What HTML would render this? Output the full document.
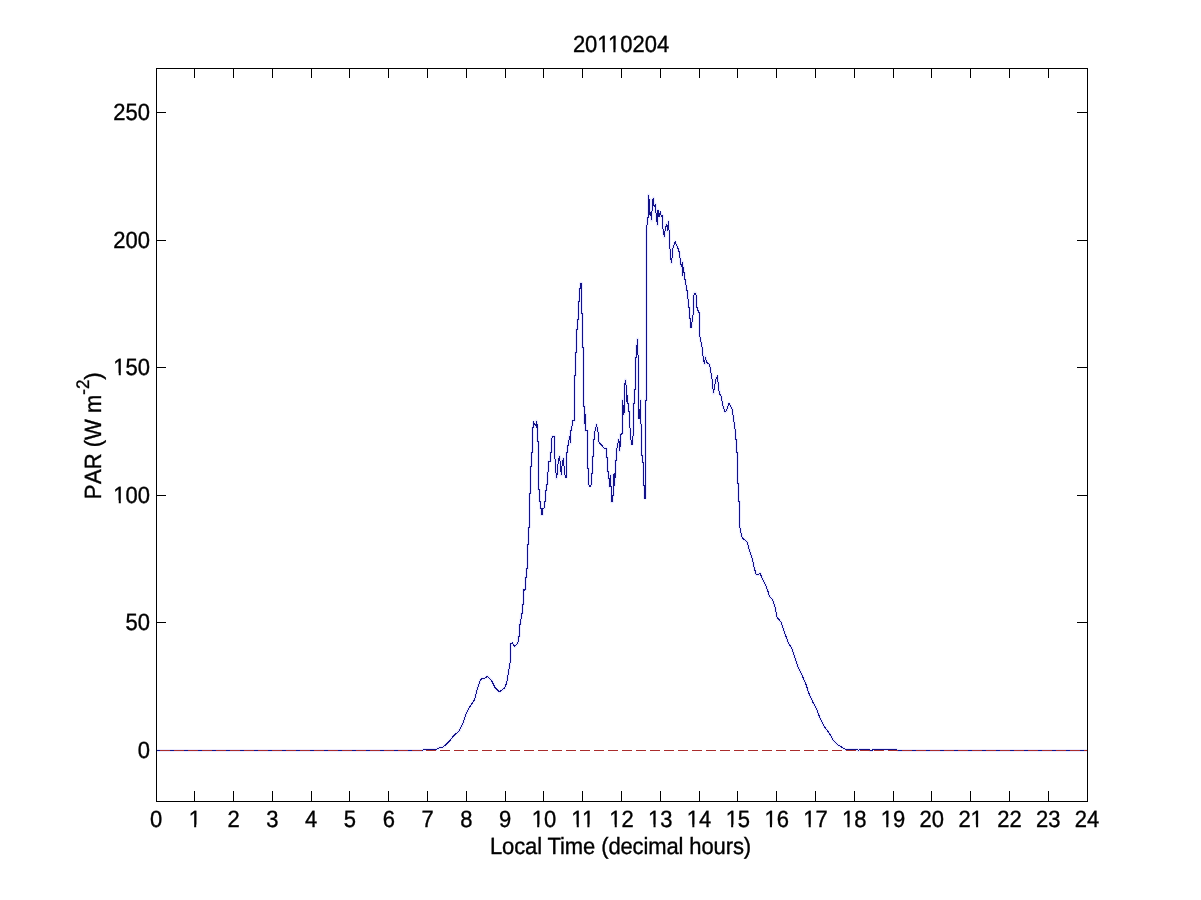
<!DOCTYPE html>
<html><head><meta charset="utf-8"><style>
html,body{margin:0;padding:0;background:#fff;width:1201px;height:900px;overflow:hidden}
svg{display:block;will-change:transform}
text{font-family:"Liberation Sans",sans-serif;font-size:22px;fill:#000;stroke:#000;stroke-width:0.35px;text-rendering:geometricPrecision}
</style></head><body>
<svg width="1201" height="900" viewBox="0 0 1201 900">
<rect x="0" y="0" width="1201" height="900" fill="#fff"/>
<polyline points="156,750.5 422.5,750.5 423.5,749.5 436,749.5 437.5,748.5 440,747.5 443,747 445,745.5 447.5,743 450.5,740 452.5,737 454.5,735 459.3,730.7 462.7,724 466,714 468.7,708.7 474.7,699.3 477.3,688.7 480,680.7 482,678.7 484.7,678.4 487.3,676.3 491.3,680 495.3,688 499.3,692 504.7,688 506.7,682.7 510.5,660 510.5,644 512.4,643 514.8,646.5 517.9,643 518.5,636 519.5,636 519.5,624 520.5,624 521.5,613.3 522.5,613 522.5,604 523.5,604 523.5,589.3 524.5,590 525.5,589.3 525.5,577.3 526.5,577.3 526.5,568.7 527.5,568.7 527.5,545 528.5,544 528.5,528 529.5,527 529.5,494 530.5,493 530.5,467 531.5,466 531.5,453 532.5,452 532.5,428 533.5,427.5 533.5,422 536.5,427 536.5,421 537.5,427 537.5,441 538.5,442 538.5,489.7 539.5,490 539.5,501.3 540.5,502 540.5,508.3 541.5,509 541.5,514.5 542.5,514.5 542.5,508.3 544.5,508 544.5,502 545.5,501 545.5,490.8 546.5,490 546.5,485 547.5,484.5 547.5,472.5 548.5,471 548.5,461.7 550.5,461 550.5,452.3 551.5,452 551.5,439 552.5,436.5 554.5,436.5 554.5,451.5 555.6,467.8 556.4,478.4 557.6,472.2 558.2,460.7 559.4,456.2 560.3,463.3 561.3,474.9 562.2,463.3 563.3,458.4 564,466 564.9,474 565.5,477 566.5,477 566.5,453 567.5,452 567.5,447 568.5,444 569.5,436 570.5,443 570.5,431 571.5,430.6 572.5,421 573.5,420.6 574.5,420.6 574.5,375.8 575.5,375.8 575.5,352.4 576.5,352.4 576.5,329.1 577.5,329.1 577.5,319.8 578.5,319.8 578.5,301.1 579.5,301.1 579.5,288.7 580.5,288.7 580.5,283.2 581.5,283.2 581.5,313.5 582.5,313.5 582.5,347.8 583.5,347.8 583.5,406 584.5,406 584.5,424 585.5,414 585.5,430.6 586.5,430.6 587.5,431 587.5,468 588.5,468 588.5,484 589.5,486 590.5,486 591.5,484 591.5,473 592.5,473 592.5,456 593.5,456 593.5,439.4 594.5,439 594.5,432.8 595.5,430 596.5,424.4 597.5,430 598.5,434 598.5,441.7 604.4,448.3 605.5,448.3 606.5,449 606.5,457.8 607.5,457.8 607.5,471.7 608.5,471.7 608.5,478.9 609.5,478.9 609.5,486.7 610.5,475 610.5,486 611.5,486 611.5,501.7 612.5,501.7 612.5,495.6 613.5,495.6 613.5,475 614.5,474 614.5,485.6 615.5,471.7 615.5,460 616.5,460 616.5,450 617.5,446 618.5,439.4 619.5,443 619.5,451 620.5,443 620.5,434 621.5,434 622.5,433 622.5,400 623.5,415 623.5,405 624.5,413 624.5,386 625.5,380 626.5,390 626.5,402 627.5,395 627.5,403 628.5,403 628.5,411 629.5,411 629.5,420 630.5,435 631.5,444 632.5,444 633.5,429 633.5,403 634.5,403 634.5,389 635.5,389 635.5,357 636.5,357 636.5,345 637.5,345 637.5,339 638.5,371 638.5,418 639.5,418 640.5,400 640.5,418 641.5,430 641.5,455 642.5,455 642.5,462 643.5,462 643.5,485.6 644.5,486 644.5,498 645.5,498 645.5,400 646.5,400 646.5,230 646.7,229 647.5,218.3 648.3,217 648.5,195 649,215.7 649.3,199 650,211.7 650.7,213 651.5,220.3 652,211 652.5,200.3 653.5,198 654,205.7 654.7,206.3 655.5,204.3 655.9,211.7 656.7,219.7 657.5,225 658,210.3 659,217 660.3,212.3 661.3,216.3 662.7,215.7 663,229 664.3,237 665.3,229 666.7,223.7 667.3,231 668.5,221.3 669.3,235 669.7,245 670.8,258.1 671.5,262.8 673.1,247.2 675.1,241.8 677.5,247 679.5,253 680.5,262 681.5,267 682.5,262 682.5,275.6 683.5,267 683.5,272 684.5,273 684.5,279 685.5,280 686.5,290.5 687.5,291 688.5,307 689.5,307.5 689.5,318 690.5,318 690.5,327 691.5,327 692.5,317 693.5,312.8 693.5,297 694.5,293 695.5,293 696.5,297 696.5,307 697.5,308 698.5,312.8 699.5,313 699.5,335 701.8,345.1 703.3,359.1 704.6,363.8 705.3,356.8 706.4,362.2 709.5,364.5 711.9,377.8 713.4,393.3 715.8,379.3 717.3,376.2 718.9,390.2 720.1,394.9 721.2,396.4 722.8,405.8 725.1,412 726.7,410.4 729,403.4 732.1,408.9 733.7,419.8 735.5,432.2 735.5,439 736.5,439.5 736.5,452 737.5,452 737.5,483 738.5,483 738.5,501.5 739.5,501.5 739.5,525 741.5,535.8 743.3,538.9 747.2,542 748.8,548.2 751.9,557.5 753.9,566.2 755.9,574 757.8,574.8 760.1,573.2 762.4,578.7 765.6,584.9 767.9,591.1 769.4,596.5 772.6,599.7 774.9,606.7 777.2,617.5 781.1,622.2 784.2,631.5 788.1,642.4 792,648.6 795.1,658 798.2,667.3 801.3,673.5 806,684.4 808.9,693.3 813.3,703.1 816.9,709.3 819.6,717.3 824,726.2 829.3,733.3 832.9,739.6 835,742.1 838.5,745.3 842,747.3 845.5,749.5 857.1,749.5 858.3,750.5 859.5,749.5 869,749.5 870,750.5 872,750.5 872.9,749.5 896.2,749.5 898,750.5 1087,750.5" fill="none" stroke="#eaeaff" stroke-width="3" stroke-linejoin="round"/>
<polyline points="156,750.5 422.5,750.5 423.5,749.5 436,749.5 437.5,748.5 440,747.5 443,747 445,745.5 447.5,743 450.5,740 452.5,737 454.5,735 459.3,730.7 462.7,724 466,714 468.7,708.7 474.7,699.3 477.3,688.7 480,680.7 482,678.7 484.7,678.4 487.3,676.3 491.3,680 495.3,688 499.3,692 504.7,688 506.7,682.7 510.5,660 510.5,644 512.4,643 514.8,646.5 517.9,643 518.5,636 519.5,636 519.5,624 520.5,624 521.5,613.3 522.5,613 522.5,604 523.5,604 523.5,589.3 524.5,590 525.5,589.3 525.5,577.3 526.5,577.3 526.5,568.7 527.5,568.7 527.5,545 528.5,544 528.5,528 529.5,527 529.5,494 530.5,493 530.5,467 531.5,466 531.5,453 532.5,452 532.5,428 533.5,427.5 533.5,422 536.5,427 536.5,421 537.5,427 537.5,441 538.5,442 538.5,489.7 539.5,490 539.5,501.3 540.5,502 540.5,508.3 541.5,509 541.5,514.5 542.5,514.5 542.5,508.3 544.5,508 544.5,502 545.5,501 545.5,490.8 546.5,490 546.5,485 547.5,484.5 547.5,472.5 548.5,471 548.5,461.7 550.5,461 550.5,452.3 551.5,452 551.5,439 552.5,436.5 554.5,436.5 554.5,451.5 555.6,467.8 556.4,478.4 557.6,472.2 558.2,460.7 559.4,456.2 560.3,463.3 561.3,474.9 562.2,463.3 563.3,458.4 564,466 564.9,474 565.5,477 566.5,477 566.5,453 567.5,452 567.5,447 568.5,444 569.5,436 570.5,443 570.5,431 571.5,430.6 572.5,421 573.5,420.6 574.5,420.6 574.5,375.8 575.5,375.8 575.5,352.4 576.5,352.4 576.5,329.1 577.5,329.1 577.5,319.8 578.5,319.8 578.5,301.1 579.5,301.1 579.5,288.7 580.5,288.7 580.5,283.2 581.5,283.2 581.5,313.5 582.5,313.5 582.5,347.8 583.5,347.8 583.5,406 584.5,406 584.5,424 585.5,414 585.5,430.6 586.5,430.6 587.5,431 587.5,468 588.5,468 588.5,484 589.5,486 590.5,486 591.5,484 591.5,473 592.5,473 592.5,456 593.5,456 593.5,439.4 594.5,439 594.5,432.8 595.5,430 596.5,424.4 597.5,430 598.5,434 598.5,441.7 604.4,448.3 605.5,448.3 606.5,449 606.5,457.8 607.5,457.8 607.5,471.7 608.5,471.7 608.5,478.9 609.5,478.9 609.5,486.7 610.5,475 610.5,486 611.5,486 611.5,501.7 612.5,501.7 612.5,495.6 613.5,495.6 613.5,475 614.5,474 614.5,485.6 615.5,471.7 615.5,460 616.5,460 616.5,450 617.5,446 618.5,439.4 619.5,443 619.5,451 620.5,443 620.5,434 621.5,434 622.5,433 622.5,400 623.5,415 623.5,405 624.5,413 624.5,386 625.5,380 626.5,390 626.5,402 627.5,395 627.5,403 628.5,403 628.5,411 629.5,411 629.5,420 630.5,435 631.5,444 632.5,444 633.5,429 633.5,403 634.5,403 634.5,389 635.5,389 635.5,357 636.5,357 636.5,345 637.5,345 637.5,339 638.5,371 638.5,418 639.5,418 640.5,400 640.5,418 641.5,430 641.5,455 642.5,455 642.5,462 643.5,462 643.5,485.6 644.5,486 644.5,498 645.5,498 645.5,400 646.5,400 646.5,230 646.7,229 647.5,218.3 648.3,217 648.5,195 649,215.7 649.3,199 650,211.7 650.7,213 651.5,220.3 652,211 652.5,200.3 653.5,198 654,205.7 654.7,206.3 655.5,204.3 655.9,211.7 656.7,219.7 657.5,225 658,210.3 659,217 660.3,212.3 661.3,216.3 662.7,215.7 663,229 664.3,237 665.3,229 666.7,223.7 667.3,231 668.5,221.3 669.3,235 669.7,245 670.8,258.1 671.5,262.8 673.1,247.2 675.1,241.8 677.5,247 679.5,253 680.5,262 681.5,267 682.5,262 682.5,275.6 683.5,267 683.5,272 684.5,273 684.5,279 685.5,280 686.5,290.5 687.5,291 688.5,307 689.5,307.5 689.5,318 690.5,318 690.5,327 691.5,327 692.5,317 693.5,312.8 693.5,297 694.5,293 695.5,293 696.5,297 696.5,307 697.5,308 698.5,312.8 699.5,313 699.5,335 701.8,345.1 703.3,359.1 704.6,363.8 705.3,356.8 706.4,362.2 709.5,364.5 711.9,377.8 713.4,393.3 715.8,379.3 717.3,376.2 718.9,390.2 720.1,394.9 721.2,396.4 722.8,405.8 725.1,412 726.7,410.4 729,403.4 732.1,408.9 733.7,419.8 735.5,432.2 735.5,439 736.5,439.5 736.5,452 737.5,452 737.5,483 738.5,483 738.5,501.5 739.5,501.5 739.5,525 741.5,535.8 743.3,538.9 747.2,542 748.8,548.2 751.9,557.5 753.9,566.2 755.9,574 757.8,574.8 760.1,573.2 762.4,578.7 765.6,584.9 767.9,591.1 769.4,596.5 772.6,599.7 774.9,606.7 777.2,617.5 781.1,622.2 784.2,631.5 788.1,642.4 792,648.6 795.1,658 798.2,667.3 801.3,673.5 806,684.4 808.9,693.3 813.3,703.1 816.9,709.3 819.6,717.3 824,726.2 829.3,733.3 832.9,739.6 835,742.1 838.5,745.3 842,747.3 845.5,749.5 857.1,749.5 858.3,750.5 859.5,749.5 869,749.5 870,750.5 872,750.5 872.9,749.5 896.2,749.5 898,750.5 1087,750.5" fill="none" stroke="#121288" stroke-width="1" stroke-linejoin="miter" shape-rendering="crispEdges"/>
<path d="M156 750.5H1087" stroke="#aa2c2c" stroke-width="1" stroke-dasharray="10 4" stroke-dashoffset="10" fill="none" shape-rendering="crispEdges"/>
<g shape-rendering="crispEdges" stroke="#000" stroke-width="1" fill="none">
<rect x="156.5" y="68.5" width="931" height="733"/>
<path d="M194.5 69V78M194.5 801V791M233.5 69V78M233.5 801V791M272.5 69V78M272.5 801V791M311.5 69V78M311.5 801V791M349.5 69V78M349.5 801V791M388.5 69V78M388.5 801V791M427.5 69V78M427.5 801V791M466.5 69V78M466.5 801V791M505.5 69V78M505.5 801V791M543.5 69V78M543.5 801V791M582.5 69V78M582.5 801V791M621.5 69V78M621.5 801V791M660.5 69V78M660.5 801V791M699.5 69V78M699.5 801V791M737.5 69V78M737.5 801V791M776.5 69V78M776.5 801V791M815.5 69V78M815.5 801V791M854.5 69V78M854.5 801V791M893.5 69V78M893.5 801V791M931.5 69V78M931.5 801V791M970.5 69V78M970.5 801V791M1009.5 69V78M1009.5 801V791M1048.5 69V78M1048.5 801V791M157 622.5H166M1087 622.5H1077M157 495.5H166M1087 495.5H1077M157 367.5H166M1087 367.5H1077M157 240.5H166M1087 240.5H1077M157 112.5H166M1087 112.5H1077"/>
</g>
<g>
<g transform="matrix(1 0 0 1.066 0 -3.432)"><text x="621" y="52" text-anchor="middle">20110204</text><rect x="597.74" y="49.80" width="5.08" height="3.80" fill="#fff"/><rect x="604.87" y="49.80" width="4.87" height="3.80" fill="#fff"/><rect x="608.34" y="49.80" width="5.08" height="3.80" fill="#fff"/><rect x="615.46" y="49.80" width="4.87" height="3.80" fill="#fff"/></g><g transform="matrix(1 0 0 1.066 0 -54.582)"><text x="156.00" y="827" text-anchor="middle">0</text></g><g transform="matrix(1 0 0 1.066 0 -54.582)"><text x="194.79" y="827" text-anchor="middle">1</text><rect x="189.06" y="824.80" width="5.08" height="3.80" fill="#fff"/><rect x="196.19" y="824.80" width="4.87" height="3.80" fill="#fff"/></g><g transform="matrix(1 0 0 1.066 0 -54.582)"><text x="233.58" y="827" text-anchor="middle">2</text></g><g transform="matrix(1 0 0 1.066 0 -54.582)"><text x="272.38" y="827" text-anchor="middle">3</text></g><g transform="matrix(1 0 0 1.066 0 -54.582)"><text x="311.17" y="827" text-anchor="middle">4</text></g><g transform="matrix(1 0 0 1.066 0 -54.582)"><text x="349.96" y="827" text-anchor="middle">5</text></g><g transform="matrix(1 0 0 1.066 0 -54.582)"><text x="388.75" y="827" text-anchor="middle">6</text></g><g transform="matrix(1 0 0 1.066 0 -54.582)"><text x="427.54" y="827" text-anchor="middle">7</text></g><g transform="matrix(1 0 0 1.066 0 -54.582)"><text x="466.33" y="827" text-anchor="middle">8</text></g><g transform="matrix(1 0 0 1.066 0 -54.582)"><text x="505.12" y="827" text-anchor="middle">9</text></g><g transform="matrix(1 0 0 1.066 0 -54.582)"><text x="543.92" y="827" text-anchor="middle">10</text><rect x="532.08" y="824.80" width="5.08" height="3.80" fill="#fff"/><rect x="539.20" y="824.80" width="4.87" height="3.80" fill="#fff"/></g><g transform="matrix(1 0 0 1.066 0 -54.582)"><text x="582.71" y="827" text-anchor="middle">11</text><rect x="571.69" y="824.80" width="5.08" height="3.80" fill="#fff"/><rect x="578.81" y="824.80" width="4.87" height="3.80" fill="#fff"/><rect x="582.28" y="824.80" width="5.08" height="3.80" fill="#fff"/><rect x="589.41" y="824.80" width="4.87" height="3.80" fill="#fff"/></g><g transform="matrix(1 0 0 1.066 0 -54.582)"><text x="621.50" y="827" text-anchor="middle">12</text><rect x="609.66" y="824.80" width="5.08" height="3.80" fill="#fff"/><rect x="616.78" y="824.80" width="4.87" height="3.80" fill="#fff"/></g><g transform="matrix(1 0 0 1.066 0 -54.582)"><text x="660.29" y="827" text-anchor="middle">13</text><rect x="648.45" y="824.80" width="5.08" height="3.80" fill="#fff"/><rect x="655.57" y="824.80" width="4.87" height="3.80" fill="#fff"/></g><g transform="matrix(1 0 0 1.066 0 -54.582)"><text x="699.08" y="827" text-anchor="middle">14</text><rect x="687.24" y="824.80" width="5.08" height="3.80" fill="#fff"/><rect x="694.36" y="824.80" width="4.87" height="3.80" fill="#fff"/></g><g transform="matrix(1 0 0 1.066 0 -54.582)"><text x="737.88" y="827" text-anchor="middle">15</text><rect x="726.04" y="824.80" width="5.08" height="3.80" fill="#fff"/><rect x="733.16" y="824.80" width="4.87" height="3.80" fill="#fff"/></g><g transform="matrix(1 0 0 1.066 0 -54.582)"><text x="776.67" y="827" text-anchor="middle">16</text><rect x="764.83" y="824.80" width="5.08" height="3.80" fill="#fff"/><rect x="771.95" y="824.80" width="4.87" height="3.80" fill="#fff"/></g><g transform="matrix(1 0 0 1.066 0 -54.582)"><text x="815.46" y="827" text-anchor="middle">17</text><rect x="803.62" y="824.80" width="5.08" height="3.80" fill="#fff"/><rect x="810.74" y="824.80" width="4.87" height="3.80" fill="#fff"/></g><g transform="matrix(1 0 0 1.066 0 -54.582)"><text x="854.25" y="827" text-anchor="middle">18</text><rect x="842.41" y="824.80" width="5.08" height="3.80" fill="#fff"/><rect x="849.53" y="824.80" width="4.87" height="3.80" fill="#fff"/></g><g transform="matrix(1 0 0 1.066 0 -54.582)"><text x="893.04" y="827" text-anchor="middle">19</text><rect x="881.20" y="824.80" width="5.08" height="3.80" fill="#fff"/><rect x="888.32" y="824.80" width="4.87" height="3.80" fill="#fff"/></g><g transform="matrix(1 0 0 1.066 0 -54.582)"><text x="931.83" y="827" text-anchor="middle">20</text></g><g transform="matrix(1 0 0 1.066 0 -54.582)"><text x="970.62" y="827" text-anchor="middle">21</text><rect x="971.01" y="824.80" width="5.08" height="3.80" fill="#fff"/><rect x="978.14" y="824.80" width="4.87" height="3.80" fill="#fff"/></g><g transform="matrix(1 0 0 1.066 0 -54.582)"><text x="1009.42" y="827" text-anchor="middle">22</text></g><g transform="matrix(1 0 0 1.066 0 -54.582)"><text x="1048.21" y="827" text-anchor="middle">23</text></g><g transform="matrix(1 0 0 1.066 0 -54.582)"><text x="1087.00" y="827" text-anchor="middle">24</text></g><g transform="matrix(1 0 0 1.066 0 -50.028)"><text x="150" y="758.00" text-anchor="end">0</text></g><g transform="matrix(1 0 0 1.066 0 -41.606)"><text x="150" y="630.40" text-anchor="end">50</text></g><g transform="matrix(1 0 0 1.066 0 -33.185)"><text x="150" y="502.80" text-anchor="end">100</text><rect x="113.68" y="500.60" width="5.08" height="3.80" fill="#fff"/><rect x="120.81" y="500.60" width="4.87" height="3.80" fill="#fff"/></g><g transform="matrix(1 0 0 1.066 0 -24.763)"><text x="150" y="375.20" text-anchor="end">150</text><rect x="113.68" y="373.00" width="5.08" height="3.80" fill="#fff"/><rect x="120.81" y="373.00" width="4.87" height="3.80" fill="#fff"/></g><g transform="matrix(1 0 0 1.066 0 -16.342)"><text x="150" y="247.60" text-anchor="end">200</text></g><g transform="matrix(1 0 0 1.066 0 -7.920)"><text x="150" y="120.00" text-anchor="end">250</text></g>
<text x="620.5" y="854" text-anchor="middle" letter-spacing="-0.12" transform="matrix(1 0 0 1.066 0 -56.364)">Local Time (decimal hours)</text>
<text transform="translate(101,499.3) rotate(-90) scale(1 1.066)" x="0" y="0">P<tspan dx="2.3">AR (W m</tspan><tspan font-size="17" dy="-11">-2</tspan><tspan dy="11">)</tspan></text>
</g>
</svg>
</body></html>
